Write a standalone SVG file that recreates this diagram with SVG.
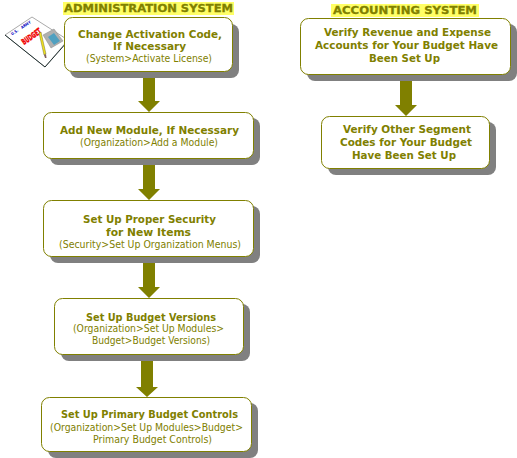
<svg xmlns="http://www.w3.org/2000/svg" width="517" height="458" viewBox="0 0 517 458">
<style>
text{font-family:"DejaVu Sans",Verdana,sans-serif;fill:#808000;text-anchor:start}
.t{font-size:11px;font-weight:700}
.s{font-size:10px}
.h{font-size:11px;font-weight:700;stroke:#808000;stroke-width:.3}
.box{fill:#fff;stroke:#808000;stroke-width:1}
.sh{fill:#808080}
.hl{fill:#ffff66}
.ar{fill:#808000}
</style>
<rect width="517" height="458" fill="#fff"/>
<g id="icon">
<polygon points="32,17 68,40 45,67 5,35" fill="#fff" stroke="#aaa" stroke-width="1"/>
<polyline points="5,35 45,67 68,41" fill="none" stroke="#203030" stroke-width="1"/>
<text transform="translate(12,35.500) rotate(-33)" style="font-size:4px;font-weight:700;fill:#0000c0" textLength="8" lengthAdjust="spacingAndGlyphs">U.S.</text>
<text transform="translate(22,29) rotate(-33)" style="font-size:4px;font-weight:700;fill:#0000c0" textLength="11" lengthAdjust="spacingAndGlyphs">ARMY</text>
<text transform="translate(24,45) rotate(-35)" style="font-size:8px;font-weight:700;fill:#f00000;stroke:#f00000;stroke-width:.5" textLength="22" lengthAdjust="spacingAndGlyphs">BUDGET</text>
<polygon points="43,35 54,29 63,41 51,48" fill="#b0b0b0" stroke="#888" stroke-width="0.5"/>
<polygon points="48,37 54,33 60,41 54,45" fill="#50a0c0"/>
<polygon points="39,33 41,32 46,54 44,55" fill="#f0e020" stroke="#505020" stroke-width="0.4"/>
<polygon points="44,55 46,54 46.500,58 45,58" fill="#806060"/>
</g>
<g id="connectors">
<polygon class="ar" points="143,71 155,71 155,101 160,101 149,112 138,101 143,101"/>
<polygon class="ar" points="143,159 155,159 155,189 160,189 149,200 138,189 143,189"/>
<polygon class="ar" points="143,256 155,256 155,287 160,287 149,298 138,287 143,287"/>
<polygon class="ar" points="141,354 153,354 153,387 158,387 147,397 136,387 141,387"/>
<polygon class="ar" points="400,74 412,74 412,105 417,105 406,116 395,105 400,105"/>
</g>
<g id="title-admin">
<rect class="hl" x="63" y="2" width="171" height="13"/>
<text class="h" x="64" y="12" textLength="169" lengthAdjust="spacingAndGlyphs">ADMINISTRATION SYSTEM</text>
</g>
<g id="title-accounting">
<rect class="hl" x="331" y="4" width="148" height="13"/>
<text class="h" x="333" y="14" textLength="144" lengthAdjust="spacingAndGlyphs">ACCOUNTING SYSTEM</text>
</g>
<g id="n1">
<rect class="sh" x="70" y="24" width="169" height="54" rx="8"/>
<rect class="box" x="64.500" y="17.500" width="168" height="54" rx="8"/>
<text class="t" x="78" y="38" textLength="144" lengthAdjust="spacingAndGlyphs">Change Activation Code,</text>
<text class="t" x="113" y="49.500" textLength="73" lengthAdjust="spacingAndGlyphs">If Necessary</text>
<text class="s" x="86" y="62" textLength="126" lengthAdjust="spacingAndGlyphs">(System&gt;Activate License)</text>
</g>
<g id="n2">
<rect class="sh" x="50" y="118" width="210" height="47" rx="8"/>
<rect class="box" x="43.500" y="112.500" width="210" height="46" rx="8"/>
<text class="t" x="60" y="134" textLength="179" lengthAdjust="spacingAndGlyphs">Add New Module, If Necessary</text>
<text class="s" x="80" y="146" textLength="138" lengthAdjust="spacingAndGlyphs">(Organization&gt;Add a Module)</text>
</g>
<g id="n3">
<rect class="sh" x="50" y="206" width="210" height="57" rx="8"/>
<rect class="box" x="43.500" y="200.500" width="210" height="56" rx="8"/>
<text class="t" x="83" y="223" textLength="133" lengthAdjust="spacingAndGlyphs">Set Up Proper Security</text>
<text class="t" x="106" y="236" textLength="85" lengthAdjust="spacingAndGlyphs">for New Items</text>
<text class="s" x="59" y="248" textLength="182" lengthAdjust="spacingAndGlyphs">(Security&gt;Set Up Organization Menus)</text>
</g>
<g id="n4">
<rect class="sh" x="61" y="304" width="189" height="57" rx="8"/>
<rect class="box" x="54.500" y="298.500" width="189" height="56" rx="8"/>
<text class="t" x="86" y="321" textLength="130" lengthAdjust="spacingAndGlyphs">Set Up Budget Versions</text>
<text class="s" x="73" y="332" textLength="151" lengthAdjust="spacingAndGlyphs">(Organization&gt;Set Up Modules&gt;</text>
<text class="s" x="92" y="344" textLength="118" lengthAdjust="spacingAndGlyphs">Budget&gt;Budget Versions)</text>
</g>
<g id="n5">
<rect class="sh" x="48" y="403" width="210" height="55" rx="8"/>
<rect class="box" x="41.500" y="397.500" width="210" height="54" rx="8"/>
<text class="t" x="61" y="418" textLength="177" lengthAdjust="spacingAndGlyphs">Set Up Primary Budget Controls</text>
<text class="s" x="50" y="431" textLength="193" lengthAdjust="spacingAndGlyphs">(Organization&gt;Set Up Modules&gt;Budget&gt;</text>
<text class="s" x="93" y="443" textLength="119" lengthAdjust="spacingAndGlyphs">Primary Budget Controls)</text>
</g>
<g id="n6">
<rect class="sh" x="307" y="24" width="210" height="57" rx="8"/>
<rect class="box" x="300.500" y="18.500" width="210" height="56" rx="8"/>
<text class="t" x="324" y="36" textLength="167" lengthAdjust="spacingAndGlyphs">Verify Revenue and Expense</text>
<text class="t" x="315" y="49" textLength="183" lengthAdjust="spacingAndGlyphs">Accounts for Your Budget Have</text>
<text class="t" x="369" y="62" textLength="71" lengthAdjust="spacingAndGlyphs">Been Set Up</text>
</g>
<g id="n7">
<rect class="sh" x="328" y="122" width="168" height="53" rx="8"/>
<rect class="box" x="321.500" y="116.500" width="168" height="52" rx="8"/>
<text class="t" x="343" y="133" textLength="128" lengthAdjust="spacingAndGlyphs">Verify Other Segment</text>
<text class="t" x="340" y="146" textLength="132" lengthAdjust="spacingAndGlyphs">Codes for Your Budget</text>
<text class="t" x="352" y="159" textLength="104" lengthAdjust="spacingAndGlyphs">Have Been Set Up</text>
</g>
</svg>
